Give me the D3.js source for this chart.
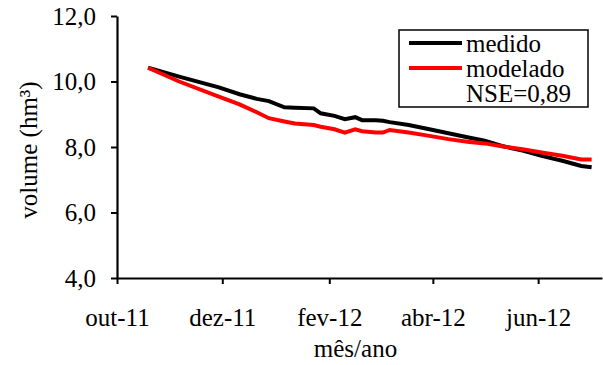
<!DOCTYPE html>
<head>
    <meta charset="utf-8">
    <title>Volume medido e modelado</title>
    <script src="https://cdn.jsdelivr.net/npm/d3@7"></script>
    <style>
        body { margin: 0; background: #fff; }
        text { font-family: "Liberation Serif", "Times New Roman", serif; }
    </style>
</head>
<body>
<div id="container"></div>

<script>

// Données (volume en hm³)
const datas = ["2011-10-19","2011-11-06","2011-11-29","2011-12-11","2011-12-21","2011-12-28",
               "2012-01-06","2012-01-12","2012-01-23","2012-01-27","2012-02-04","2012-02-10",
               "2012-02-16","2012-02-20","2012-02-28","2012-03-03","2012-03-07","2012-03-18",
               "2012-03-30","2012-04-10","2012-04-21","2012-05-01","2012-05-11","2012-05-23",
               "2012-06-03","2012-06-15","2012-06-26","2012-07-02"];
const medido   = [10.42, 10.15, 9.82, 9.61, 9.47, 9.40, 9.21, 9.20, 9.18, 9.03, 8.95, 8.85,
                  8.91, 8.82, 8.82, 8.80, 8.76, 8.67, 8.54, 8.42, 8.30, 8.19, 8.03, 7.89,
                  7.73, 7.58, 7.42, 7.38];
const modelado = [10.42, 10.00, 9.54, 9.30, 9.06, 8.88, 8.78, 8.72, 8.67, 8.62, 8.54, 8.44,
                  8.54, 8.48, 8.44, 8.44, 8.52, 8.44, 8.34, 8.24, 8.16, 8.11, 8.02, 7.93,
                  7.83, 7.73, 7.62, 7.62];
const xTicks  = ["2011-10-01","2011-12-01","2012-02-01","2012-04-01","2012-06-01"];
const xLabels = ["out-11","dez-11","fev-12","abr-12","jun-12"];
const yTicks  = [4, 6, 8, 10, 12];

const parse = d3.timeParse("%Y-%m-%d");

// Dimensions
const width = 603, height = 365;
const marginLeft = 117, marginRight = 1, marginTop = 16, marginBottom = 87;

const svg = d3.select("#container")
              .append("svg")
              .attr("width", width)
              .attr("height", height);

// Échelles
const x = d3.scaleTime()
            .domain([parse("2011-10-01"), parse("2012-07-08")])
            .range([marginLeft, width - marginRight]);
const y = d3.scaleLinear()
            .domain([4, 12])
            .range([height - marginBottom, marginTop]);

// Axes
const xAxis = svg.append("g")
                 .attr("transform", `translate(0,${height - marginBottom})`)
                 .call(d3.axisBottom(x)
                         .tickValues(xTicks.map(parse))
                         .tickFormat((d, i) => xLabels[i])
                         .tickSize(6)
                         .tickSizeOuter(0)
                         .tickPadding(24));
const yAxis = svg.append("g")
                 .attr("transform", `translate(${marginLeft},0)`)
                 .call(d3.axisLeft(y)
                         .tickValues(yTicks)
                         .tickFormat(d => d3.format(".1f")(d).replace(".", ","))
                         .tickSize(6)
                         .tickSizeOuter(0)
                         .tickPadding(15));

[xAxis, yAxis].forEach(a => {
    a.select(".domain").attr("stroke", "#000").attr("stroke-width", 2.2);
    a.selectAll(".tick line").attr("stroke", "#000").attr("stroke-width", 2);
    a.selectAll(".tick text").attr("fill", "#000").style("font-size", "25px")
     .style("font-family", "'Liberation Serif', serif");
});

// Titres des axes
svg.append("text")
   .attr("x", (marginLeft + width - marginRight) / 2 - 4)
   .attr("y", 357)
   .attr("text-anchor", "middle")
   .style("font-size", "25px")
   .text("mês/ano");
svg.append("text")
   .attr("transform", "translate(37,150) rotate(-90)")
   .attr("text-anchor", "middle")
   .style("font-size", "25px")
   .text("volume (hm³)");

// Lignes
const line = d3.line()
               .x((d, i) => x(parse(datas[i])))
               .y(d => y(d));

svg.append("path")
   .datum(medido)
   .attr("fill", "none")
   .attr("stroke", "#000")
   .attr("stroke-width", 4)
   .attr("d", line);
svg.append("path")
   .datum(modelado)
   .attr("fill", "none")
   .attr("stroke", "#ff0000")
   .attr("stroke-width", 4)
   .attr("d", line);

// Légende
const leg = svg.append("g");
leg.append("rect")
   .attr("x", 399).attr("y", 30)
   .attr("width", 189).attr("height", 77)
   .attr("fill", "#fff")
   .attr("stroke", "#000")
   .attr("stroke-width", 1.5);
const series = [{nom: "medido", cor: "#000"}, {nom: "modelado", cor: "#ff0000"}];
series.forEach((s, i) => {
    leg.append("line")
       .attr("x1", 409).attr("x2", 462)
       .attr("y1", 43 + i * 25).attr("y2", 43 + i * 25)
       .attr("stroke", s.cor).attr("stroke-width", 4);
    leg.append("text")
       .attr("x", 466).attr("y", 52 + i * 25)
       .style("font-size", "25px")
       .text(s.nom);
});
leg.append("text")
   .attr("x", 466).attr("y", 102)
   .style("font-size", "25px")
   .text("NSE=0,89");

</script>
</body>
